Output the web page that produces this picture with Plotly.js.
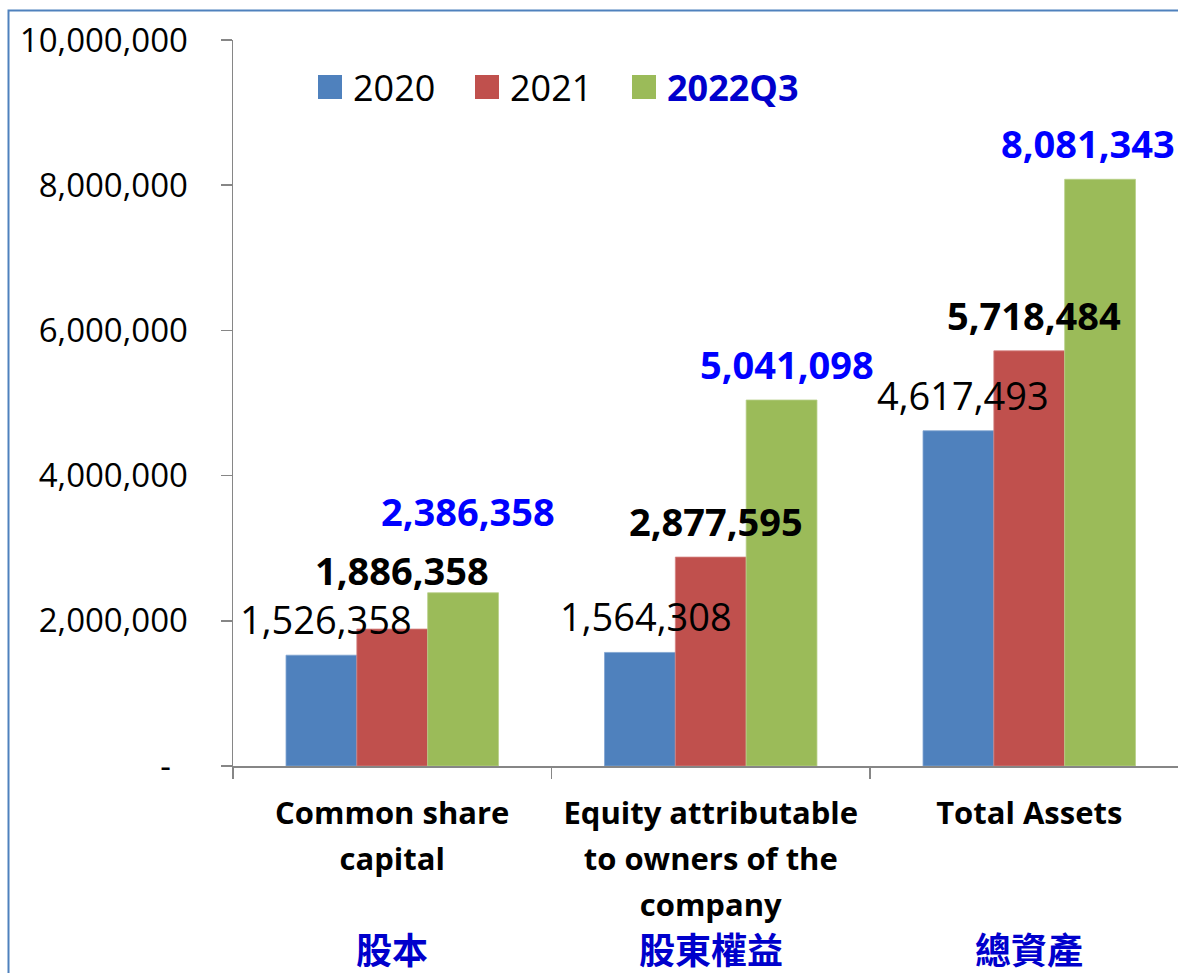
<!DOCTYPE html>
<html>
<head>
<meta charset="utf-8">
<script src="https://cdn.plot.ly/plotly-3.0.1.min.js"></script>
<style>
html, body { margin: 0; padding: 0; background: #ffffff; }
#chart { width: 1178px; height: 973px; }
</style>
</head>
<body>
<div id="chart"></div>
<script>
// ---------------- data ----------------
const categories = ['Common share<br>capital', 'Equity attributable<br>to owners of the<br>company', 'Total Assets'];
const categoriesZh = ['股本', '股東權益', '總資產'];
const seriesNames = ['2020', '2021', '2022Q3'];
const values2020 = [1526358, 1564308, 4617493];
const values2021 = [1886358, 2877595, 5718484];
const values2022Q3 = [2386358, 5041098, 8081343];
const yTickValues = [0, 2000000, 4000000, 6000000, 8000000, 10000000];
const yTickLabels = ['-\u00a0\u00a0', '2,000,000', '4,000,000', '6,000,000', '8,000,000', '10,000,000'];

// ---------------- styling ----------------
const FONT = '"Open Sans", "Noto Sans CJK TC", sans-serif';
const CJK_FONT = '"Noto Sans CJK TC", "Open Sans", sans-serif';
const seriesColors = ['#4F81BD', '#C0504D', '#9BBB59'];
const seriesEdge = ['#7FA3D1', '#D48381', '#B7CF88'];
const labelStyles = [
  { color: '#000000', weight: 400 },
  { color: '#000000', weight: 700 },
  { color: '#0000FF', weight: 700 }
];
const legendStyles = [
  { color: '#000000', weight: 400 },
  { color: '#000000', weight: 400 },
  { color: '#0000CC', weight: 700 }
];
// extra label offsets in pixels [series][category] : [dx, dy]
const labelNudges = [
  [[0, 0], [1, 0], [0, 0]],
  [[5, 23], [0, 0], [0, 0]],
  [[0, 46], [0, 0], [-17, 0]]
];
const CAT_TEXT_PX = 31;      // visible size of the category label text
const CAT_LINE_FONT = 35.4;  // base size that sets the line pitch (1.3 x)

const W = 1178, H = 973;
const M = { l: 233, r: 0, t: 40, b: 207 };
const plotW = W - M.l - M.r, plotH = H - M.t - M.b;
const catPx = 318.5;
const xRange = [-0.5, -0.5 + plotW / catPx];
const BARGAP = 0.333;
const barPx = catPx * (1 - BARGAP) / 3;
const px2x = p => (p - M.l) / plotW;
const px2y = p => (H - M.b - p) / plotH;

const seriesValues = [values2020, values2021, values2022Q3];
const fmt = v => v.toLocaleString('en-US');
const catTickText = categories.map(c => c.split('<br>')
  .map(line => '<span style="font-size:' + CAT_TEXT_PX + 'px">' + line + '</span>').join('<br>'));

const traces = seriesNames.map((name, s) => ({
  type: 'bar',
  name: name,
  x: categories,
  y: seriesValues[s],
  marker: { color: seriesColors[s], line: { color: seriesEdge[s], width: 0.8 } },
  hoverinfo: 'skip',
  showlegend: false
}));

const annotations = [];
// data labels
seriesValues.forEach((vals, s) => {
  vals.forEach((v, i) => {
    annotations.push({
      x: categories[i], y: v, xref: 'x', yref: 'y',
      text: fmt(v), showarrow: false,
      xanchor: 'center', yanchor: 'middle',
      xshift: (s - 1) * barPx + 5 + labelNudges[s][i][0],
      yshift: 36 + labelNudges[s][i][1],
      font: { family: FONT, size: 38, color: labelStyles[s].color, weight: labelStyles[s].weight }
    });
  });
});
// Chinese category labels
categoriesZh.forEach((t, i) => {
  annotations.push({
    x: categories[i], y: px2y(948), xref: 'x', yref: 'paper',
    text: t, showarrow: false, xanchor: 'center', yanchor: 'middle',
    font: { family: CJK_FONT, size: 36, color: '#0000CC', weight: 700 }
  });
});

// custom legend (large squares like the original)
const legendSquareLeft = 318, legendStep = 157, legendSq = 24, legendCenterY = 87;
const shapes = [];
seriesNames.forEach((name, s) => {
  const left = legendSquareLeft + s * legendStep;
  shapes.push({
    type: 'rect', xref: 'paper', yref: 'paper',
    x0: px2x(left), x1: px2x(left + legendSq),
    y0: px2y(legendCenterY + legendSq / 2), y1: px2y(legendCenterY - legendSq / 2),
    fillcolor: seriesColors[s], line: { width: 0 }
  });
  annotations.push({
    x: px2x(left + 33), y: px2y(legendCenterY), xref: 'paper', yref: 'paper',
    text: name, showarrow: false, xanchor: 'left', yanchor: 'middle',
    font: { family: FONT, size: 36, color: legendStyles[s].color, weight: legendStyles[s].weight }
  });
});
// outer chart border
shapes.push({
  type: 'rect', xref: 'paper', yref: 'paper',
  x0: px2x(8.5), x1: px2x(W + 60), y0: px2y(H + 60), y1: px2y(10.5),
  line: { color: '#4F81BD', width: 2 }, fillcolor: 'rgba(0,0,0,0)', layer: 'above'
});

const layout = {
  width: W, height: H,
  margin: M,
  paper_bgcolor: '#ffffff', plot_bgcolor: '#ffffff',
  barmode: 'group', bargap: BARGAP, bargroupgap: 0,
  showlegend: false,
  font: { family: FONT, color: '#000000' },
  xaxis: {
    type: 'category', range: xRange, fixedrange: true,
    tickmode: 'array', tickvals: categories, ticktext: catTickText,
    showline: true, linecolor: '#868686', linewidth: 1.5,
    ticks: 'outside', ticklen: 11, tickcolor: '#868686', tickwidth: 1.5,
    tickson: 'boundaries',
    tickfont: { family: FONT, size: CAT_LINE_FONT, color: '#000000', weight: 700 },
    ticklabelstandoff: 14,
    showgrid: false, zeroline: false
  },
  yaxis: {
    range: [0, 10000000], fixedrange: true,
    tickmode: 'array', tickvals: yTickValues, ticktext: yTickLabels,
    showline: true, linecolor: '#868686', linewidth: 1.5,
    ticks: 'outside', ticklen: 11, tickcolor: '#868686', tickwidth: 1.5,
    tickfont: { family: FONT, size: 33, color: '#000000' },
    ticklabelstandoff: 26,
    showgrid: false, zeroline: false
  },
  annotations: annotations,
  shapes: shapes
};

Plotly.newPlot('chart', traces, layout, { displayModeBar: false, staticPlot: true });
</script>
</body>
</html>
